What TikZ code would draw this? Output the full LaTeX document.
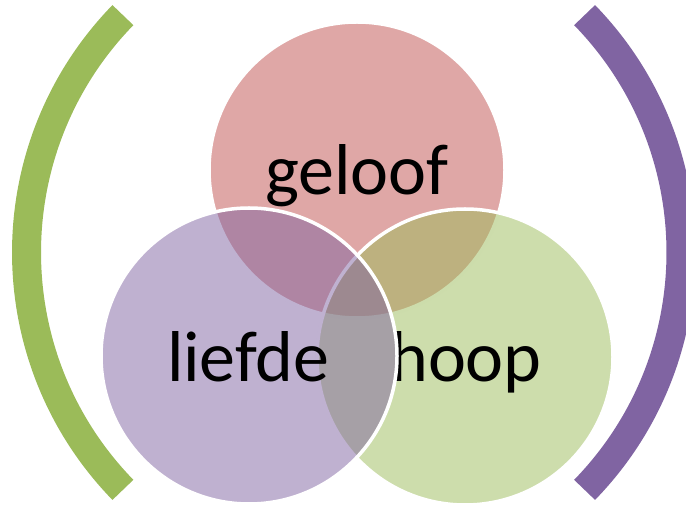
\documentclass[tikz,border=0pt]{standalone}
\usepackage{fontspec}
\setmainfont{Carlito}
\definecolor{setred}{HTML}{C0504D}
\definecolor{setgreen}{HTML}{9BBB59}
\definecolor{setpurple}{HTML}{8064A2}
\begin{document}
\begin{tikzpicture}[x=1pt,y=1pt,
  setdisk/.style={circle, minimum size=296pt, inner sep=0pt,
    fill=#1, fill opacity=0.5, draw=white, draw opacity=1, line width=3.5pt},
  setlabel/.style={font=\fontsize{72}{86}\selectfont, text=black,
    anchor=base, inner sep=0pt},
  bracketarc/.style={line width=29pt, line cap=butt}]
  \useasboundingbox (0,0) rectangle (686,509);
  \clip (0,0) rectangle (686,509);

  % centres of the two enclosing arcs
  \coordinate (lc) at (367,256.5);
  \coordinate (rc) at (340.5,256.5);

  % enclosing brackets
  \draw[bracketarc, setgreen] ([shift={(135.8:340.5)}]lc)
    arc[start angle=135.8, end angle=224.2, radius=340.5];
  \draw[bracketarc, setpurple] ([shift={(-44.2:340.5)}]rc)
    arc[start angle=-44.2, end angle=44.2, radius=340.5];

  % the three sets, each with its word
  \node[setdisk=setred] (faith) at (357,339) {};
  \node[setlabel] (faithtext) at (357,314) {geloof};
  \node[setdisk=setgreen] (hope) at (465,152) {};
  \node[setlabel] (hopetext) at (466,127) {hoop};
  \node[setdisk=setpurple] (love) at (249,153) {};
  \node[setlabel] (lovetext) at (248,127) {liefde};
\end{tikzpicture}
\end{document}
